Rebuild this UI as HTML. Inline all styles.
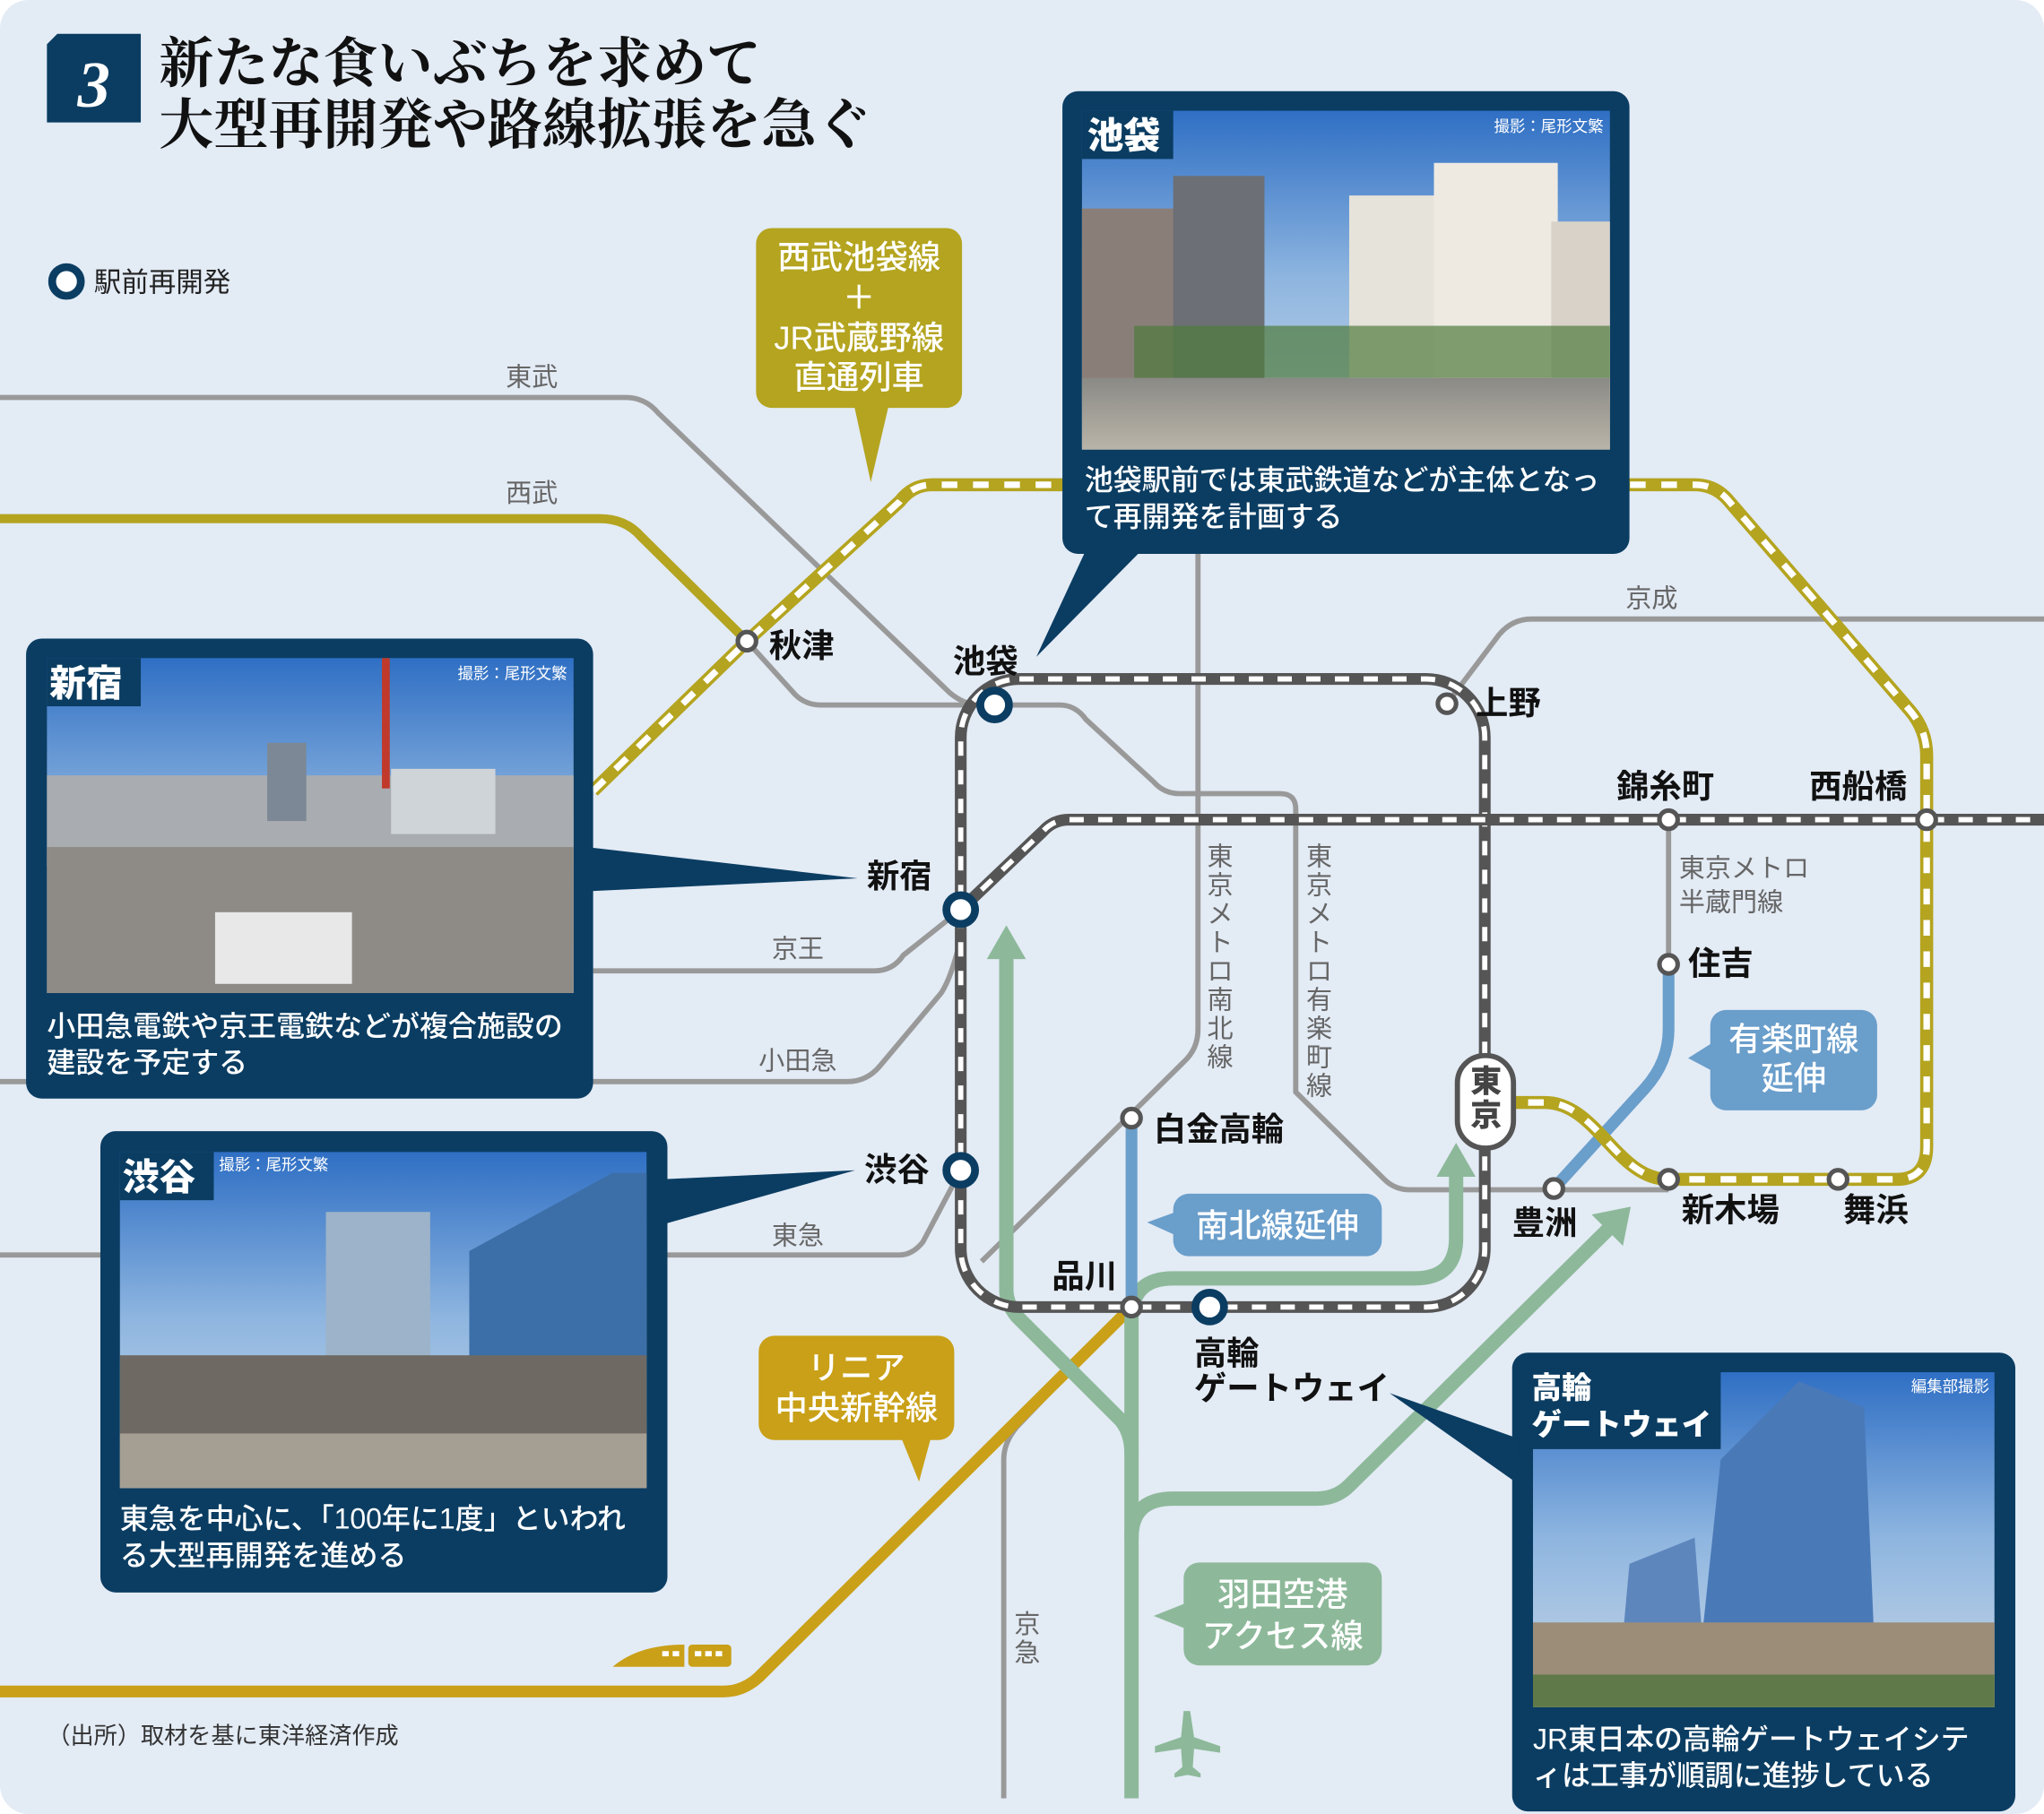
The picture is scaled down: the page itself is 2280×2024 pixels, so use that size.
<!DOCTYPE html>
<html><head><meta charset="utf-8">
<style>
html,body{margin:0;padding:0;background:#fff;}
svg{display:block;}
text{font-family:"Liberation Sans","Noto Sans CJK JP",sans-serif;}
.st{font-size:25px;font-weight:700;fill:#111;}
.ln{font-size:20px;fill:#666;}
.cap{font-size:22px;fill:#fff;font-weight:500;}
.cr{font-size:12px;fill:#fff;}
.tab{font-size:28px;font-weight:900;fill:#fff;}
.bx{font-size:25px;fill:#fff;font-weight:500;}
</style></head><body>
<svg width="2280" height="2024" viewBox="0 0 1568 1392" preserveAspectRatio="none" xmlns="http://www.w3.org/2000/svg">
<defs>
<linearGradient id="sky" x1="0" y1="0" x2="0" y2="1"><stop offset="0" stop-color="#2f6fc4"/><stop offset="0.5" stop-color="#8fb6e0"/><stop offset="1" stop-color="#c9d7e6"/></linearGradient>
<linearGradient id="gnd" x1="0" y1="0" x2="0" y2="1"><stop offset="0" stop-color="#8a8a86"/><stop offset="1" stop-color="#b9b4a8"/></linearGradient>
</defs>
<rect x="0" y="0" width="1568" height="1392" rx="22" fill="#e3ebf5"/>

<polygon points="44,26 108,26 108,94 36,94 36,34" fill="#0b3d62"/>
<text x="72" y="82" text-anchor="middle" style="font-family:'Liberation Serif',serif;font-style:italic;font-weight:700;font-size:50px;fill:#fff">3</text>
<text x="122" y="63" style="font-family:'Liberation Serif','Noto Serif CJK SC',serif;font-size:42px;font-weight:700;fill:#111">新たな食いぶちを求めて</text>
<text x="122" y="110" style="font-family:'Liberation Serif','Noto Serif CJK SC',serif;font-size:42px;font-weight:700;fill:#111">大型再開発や路線拡張を急ぐ</text>

<circle cx="51" cy="216" r="11" fill="#fff" stroke="#0b3d62" stroke-width="6"/>
<text x="72" y="224" style="font-size:21px;fill:#222">駅前再開発</text>

<g fill="none" stroke="#999" stroke-width="4">
<path d="M0,305 L480,305 Q495,305 505,317 L729,532 Q740,541 752,541"/>
<path d="M573,492 L610,533 Q618,541 630,541 L752,541"/>
<path d="M775,541 L813,541 Q825,541 833,552 L885,600 Q893,609 905,609 L982,609 Q994,609 994,621 L994,838 L1062,905 Q1070,913 1082,913 L1280,913"/>
<path d="M919,425 L919,790 Q919,805 908,815 L753,968"/>
<path d="M1110,540 L1150,487 Q1160,475 1175,475 L1568,475"/>
<path d="M1280,629 L1280,740"/>
<path d="M455,745 L671,745 Q685,745 693,733 L737,698"/>
<path d="M0,830 L650,830 Q665,830 675,818 L722,762 Q730,750 737,720"/>
<path d="M0,963 L690,963 Q700,963 708,953 L737,898"/>
<path d="M868,1003 L780,1095 Q770,1107 770,1120 L770,1380"/>
</g>
<text x="408" y="296" class="ln" text-anchor="middle">東武</text>
<text x="408" y="385" class="ln" text-anchor="middle">西武</text>
<text x="1267" y="466" class="ln" text-anchor="middle">京成</text>
<text x="612" y="735" class="ln" text-anchor="middle">京王</text>
<text x="612" y="821" class="ln" text-anchor="middle">小田急</text>
<text x="612" y="955" class="ln" text-anchor="middle">東急</text>
<text x="1288" y="673" class="ln">東京メトロ</text>
<text x="1288" y="699" class="ln">半蔵門線</text>
<g class="ln" text-anchor="middle">
<text x="936" y="664">東</text><text x="936" y="686">京</text><text x="936" y="708">メ</text><text x="936" y="730">ト</text><text x="936" y="752">ロ</text><text x="936" y="774">南</text><text x="936" y="796">北</text><text x="936" y="818">線</text>
<text x="1012" y="664">東</text><text x="1012" y="686">京</text><text x="1012" y="708">メ</text><text x="1012" y="730">ト</text><text x="1012" y="752">ロ</text><text x="1012" y="774">有</text><text x="1012" y="796">楽</text><text x="1012" y="818">町</text><text x="1012" y="840">線</text>
<text x="788" y="1253">京</text><text x="788" y="1275">急</text>
</g>

<path d="M0,398 L460,398 Q480,398 492,412 L573,492" fill="none" stroke="#b4a41f" stroke-width="7"/>
<path d="M0,1298 L555,1298 Q570,1298 582,1287 L868,1003" fill="none" stroke="#c9a017" stroke-width="9"/>

<g fill="none" stroke="#8db99a" stroke-width="11">
<path d="M772,730 L772,990 Q772,1000 780,1010 L860,1090 Q868,1100 868,1115 L868,1380"/>
<path d="M868,1115 L868,1012 Q868,981 900,981 L1085,981 Q1117,981 1117,950 L1117,900"/>
<path d="M868,1180 Q868,1150 900,1150 L1010,1150 Q1025,1150 1035,1140 L1236,941"/>
</g>
<g fill="#8db99a">
<polygon points="757,736 787,736 772,710"/>
<polygon points="1102,903 1132,903 1117,877"/>
<polygon points="1251,926 1245,956 1221,932"/>
<path d="M908,1313 l5,0 l3,20 l20,7 l0,5 l-20,-3 l-1,14 l6,5 l0,3 l-10,-2 l-10,2 l0,-3 l6,-5 l-1,-14 l-20,3 l0,-5 l20,-7 z"/>
</g>

<g fill="none" stroke="#6a9ecb" stroke-width="9">
<path d="M1280,740 L1280,790 Q1280,815 1262,835 L1192,912"/>
<path d="M868,858 L868,1003"/>
</g>

<path d="M455,607 L573,492 L690,385 Q700,372 715,372 L1300,372 Q1315,372 1325,383 L1465,545 Q1478,560 1478,580 L1478,880 Q1478,905 1455,905 L1280,905 C1240,905 1225,846 1185,846 L1161,846" fill="none" stroke="#b4a41f" stroke-width="10"/>
<path d="M455,607 L573,492 L690,385 Q700,372 715,372 L1300,372 Q1315,372 1325,383 L1465,545 Q1478,560 1478,580 L1478,880 Q1478,905 1455,905 L1280,905 C1240,905 1225,846 1185,846 L1161,846" fill="none" stroke="#fff" stroke-width="5" stroke-dasharray="12 12"/>

<rect x="737" y="521" width="402" height="482" rx="45" fill="none" stroke="#555" stroke-width="9"/>
<rect x="737" y="521" width="402" height="482" rx="45" fill="none" stroke="#fff" stroke-width="4" stroke-dasharray="11 11"/>
<path d="M737,698 L800,638 Q808,629 820,629 L1568,629" fill="none" stroke="#555" stroke-width="9"/>
<path d="M737,698 L800,638 Q808,629 820,629 L1568,629" fill="none" stroke="#fff" stroke-width="4" stroke-dasharray="11 11"/>

<g fill="#fff" stroke="#555" stroke-width="3.5">
<circle cx="573" cy="492" r="7"/><circle cx="1110" cy="540" r="7"/><circle cx="1280" cy="629" r="7"/><circle cx="1478" cy="629" r="7"/>
<circle cx="1280" cy="740" r="7"/><circle cx="1192" cy="912" r="7"/><circle cx="1280" cy="905" r="7"/><circle cx="1410" cy="905" r="7"/>
<circle cx="868" cy="858" r="7"/><circle cx="868" cy="1003" r="7"/>
</g>
<g fill="#fff" stroke="#0b3d62" stroke-width="6">
<circle cx="763" cy="541" r="11"/><circle cx="737" cy="698" r="11"/><circle cx="737" cy="898" r="11"/><circle cx="928" cy="1003" r="11"/>
</g>
<rect x="1118" y="810" width="43" height="71" rx="21" fill="#fff" stroke="#555" stroke-width="4"/>
<text x="1140" y="838" text-anchor="middle" style="font-size:24px;font-weight:900;fill:#444">東</text>
<text x="1140" y="864" text-anchor="middle" style="font-size:24px;font-weight:900;fill:#444">京</text>

<g class="st">
<text x="590" y="504">秋津</text>
<text x="731" y="516">池袋</text>
<text x="1132" y="548">上野</text>
<text x="1240" y="612">錦糸町</text>
<text x="1388" y="612">西船橋</text>
<text x="665" y="681">新宿</text>
<text x="1295" y="748">住吉</text>
<text x="885" y="875">白金高輪</text>
<text x="663" y="906">渋谷</text>
<text x="807" y="988">品川</text>
<text x="1160" y="947">豊洲</text>
<text x="1290" y="937">新木場</text>
<text x="1414" y="937">舞浜</text>
<text x="916" y="1047">高輪</text>
<text x="916" y="1074">ゲートウェイ</text>
</g>

<rect x="580" y="175" width="158" height="138" rx="12" fill="#b4a41f"/>
<polygon points="655,310 682,310 668,370" fill="#b4a41f"/>
<text x="659" y="206" class="bx" text-anchor="middle">西武池袋線</text>
<text x="659" y="237" class="bx" text-anchor="middle">＋</text>
<text x="659" y="268" class="bx" text-anchor="middle">JR武蔵野線</text>
<text x="659" y="298" class="bx" text-anchor="middle">直通列車</text>

<rect x="582" y="1025" width="150" height="80" rx="12" fill="#c9a017"/>
<polygon points="690,1100 715,1100 705,1137" fill="#c9a017"/>
<text x="657" y="1058" class="bx" text-anchor="middle">リニア</text>
<text x="657" y="1089" class="bx" text-anchor="middle">中央新幹線</text>

<rect x="1312" y="775" width="128" height="77" rx="12" fill="#6a9ecb"/>
<polygon points="1314,800 1314,822 1295,812" fill="#6a9ecb"/>
<text x="1376" y="806" class="bx" text-anchor="middle">有楽町線</text>
<text x="1376" y="836" class="bx" text-anchor="middle">延伸</text>

<rect x="900" y="916" width="160" height="48" rx="12" fill="#6a9ecb"/>
<polygon points="902,930 902,948 880,938" fill="#6a9ecb"/>
<text x="980" y="949" class="bx" text-anchor="middle">南北線延伸</text>

<rect x="908" y="1199" width="152" height="79" rx="12" fill="#8db99a"/>
<polygon points="910,1230 910,1250 885,1240" fill="#8db99a"/>
<text x="984" y="1232" class="bx" text-anchor="middle">羽田空港</text>
<text x="984" y="1264" class="bx" text-anchor="middle">アクセス線</text>

<path d="M470,1279 Q490,1262 525,1262 L525,1279 Z" fill="#c9a017"/>
<rect x="528" y="1262" width="33" height="17" rx="3" fill="#c9a017"/>
<g fill="#fff"><rect x="533" y="1267" width="5" height="4"/><rect x="541" y="1267" width="5" height="4"/><rect x="549" y="1267" width="5" height="4"/><rect x="508" y="1267" width="5" height="4"/><rect x="516" y="1267" width="5" height="4"/></g>

<text x="36" y="1338" style="font-size:18px;fill:#333">（出所）取材を基に東洋経済作成</text>

<!-- Ikebukuro callout -->
<rect x="815" y="70" width="435" height="355" rx="12" fill="#0b3d62"/>
<polygon points="834,420 878,420 795,504" fill="#0b3d62"/>
<rect x="830" y="85" width="405" height="260" fill="url(#sky)"/>
<rect x="830" y="160" width="135" height="150" fill="#8a7f78"/>
<rect x="900" y="135" width="70" height="175" fill="#6c6f75"/>
<rect x="1035" y="150" width="75" height="160" fill="#e6e3da"/>
<rect x="1100" y="125" width="95" height="185" fill="#eeeae2"/>
<rect x="1190" y="170" width="45" height="140" fill="#d8d2c8"/>
<rect x="870" y="250" width="365" height="40" fill="#4f7a3c" opacity="0.7"/>
<rect x="830" y="290" width="405" height="55" fill="url(#gnd)"/>
<rect x="830" y="85" width="70" height="37" fill="#0b3d62"/>
<text x="834" y="114" class="tab">池袋</text>
<text x="1230" y="101" class="cr" text-anchor="end">撮影：尾形文繁</text>
<text x="832" y="376" class="cap">池袋駅前では東武鉄道などが主体となっ</text>
<text x="832" y="404" class="cap">て再開発を計画する</text>

<!-- Shinjuku callout -->
<rect x="20" y="490" width="435" height="353" rx="12" fill="#0b3d62"/>
<polygon points="450,650 450,684 658,674" fill="#0b3d62"/>
<rect x="36" y="505" width="404" height="257" fill="url(#sky)"/>
<rect x="36" y="595" width="404" height="70" fill="#a9acb0"/>
<rect x="205" y="570" width="30" height="60" fill="#7c8895"/>
<rect x="293" y="505" width="6" height="100" fill="#c0392b"/>
<rect x="300" y="590" width="80" height="50" fill="#cfd4d8"/>
<rect x="36" y="650" width="404" height="112" fill="#8e8b86"/>
<rect x="165" y="700" width="105" height="55" fill="#e8e8e8"/>
<rect x="36" y="505" width="72" height="37" fill="#0b3d62"/>
<text x="38" y="534" class="tab">新宿</text>
<text x="435" y="521" class="cr" text-anchor="end">撮影：尾形文繁</text>
<text x="36" y="795" class="cap">小田急電鉄や京王電鉄などが複合施設の</text>
<text x="36" y="823" class="cap">建設を予定する</text>

<!-- Shibuya callout -->
<rect x="77" y="868" width="435" height="354" rx="12" fill="#0b3d62"/>
<polygon points="507,905 507,940 656,898" fill="#0b3d62"/>
<rect x="92" y="884" width="404" height="258" fill="url(#sky)"/>
<rect x="250" y="930" width="80" height="120" fill="#9db3c9"/>
<polygon points="360,960 470,900 496,900 496,1050 360,1050" fill="#3c6fa8"/>
<rect x="92" y="1040" width="404" height="102" fill="#6e6a63"/>
<rect x="92" y="1100" width="404" height="42" fill="#a59f93"/>
<rect x="92" y="884" width="72" height="37" fill="#0b3d62"/>
<text x="94" y="913" class="tab">渋谷</text>
<text x="168" y="898" class="cr">撮影：尾形文繁</text>
<text x="92" y="1173" class="cap">東急を中心に、「100年に1度」といわれ</text>
<text x="92" y="1201" class="cap">る大型再開発を進める</text>

<!-- Takanawa callout -->
<rect x="1160" y="1038" width="386" height="352" rx="12" fill="#0b3d62"/>
<polygon points="1165,1104 1165,1139 1066,1069" fill="#0b3d62"/>
<rect x="1176" y="1053" width="354" height="257" fill="url(#sky)"/>
<polygon points="1300,1310 1320,1120 1380,1060 1430,1080 1440,1310" fill="#4a79b8"/>
<polygon points="1240,1310 1250,1200 1300,1180 1310,1310" fill="#5d86bd"/>
<rect x="1176" y="1245" width="354" height="65" fill="#9c8d78"/>
<rect x="1176" y="1285" width="354" height="25" fill="#5f7a48"/>
<rect x="1165" y="1050" width="155" height="62" fill="#0b3d62"/>
<text x="1175" y="1073" style="font-size:23px;font-weight:900;fill:#fff">高輪</text>
<text x="1175" y="1101" style="font-size:23px;font-weight:900;fill:#fff">ゲートウェイ</text>
<text x="1526" y="1068" class="cr" text-anchor="end">編集部撮影</text>
<text x="1176" y="1342" class="cap">JR東日本の高輪ゲートウェイシテ</text>
<text x="1176" y="1370" class="cap">ィは工事が順調に進捗している</text>
</svg>
</body></html>
